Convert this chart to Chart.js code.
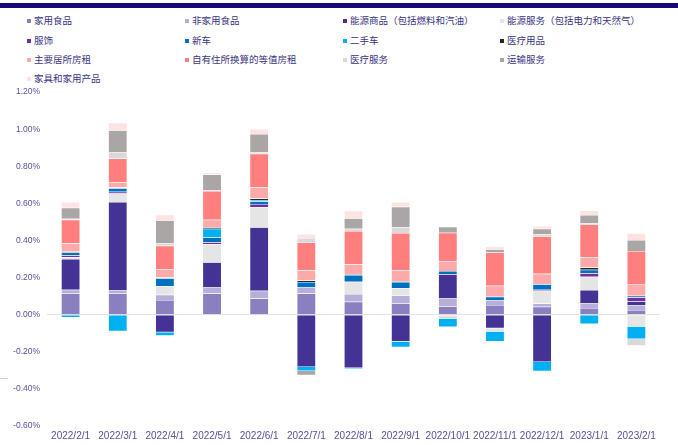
<!DOCTYPE html>
<html>
<head>
<meta charset="utf-8">
<script src="https://cdn.jsdelivr.net/npm/chart.js@4.4.1/dist/chart.umd.min.js"></script>
<style>
    body { margin: 0; background: #fff; }
    #wrap { position: relative; width: 678px; height: 445px; overflow: hidden; }
    #band { position: absolute; left: 0; top: 3px; width: 678px; height: 5px; background: #16087a; }
    #legend { position: absolute; left: 0; top: 0; width: 678px; height: 90px; }
    .item { position: absolute; height: 14px; line-height: 14px; font-family: "Noto Sans CJK SC", sans-serif; font-size: 9.5px; color: #3a3482; white-space: nowrap; }
    .item i { display: inline-block; width: 4px; height: 4px; margin-right: 3px; vertical-align: 1px; }
    #box { position: absolute; left: 0; top: 80px; width: 678px; height: 365px; }
    #mark { position: absolute; left: 0; top: 378px; width: 8px; height: 1px; background: #d0d0d0; }
</style>
</head>
<body>
<div id="wrap">
    <div id="band"></div>
    <div id="legend"></div>
    <div id="mark"></div>
    <div id="box"><canvas id="cpiChart"></canvas></div>
</div>
<script>
// ================= DATA =================
let months = ["2022/2/1", "2022/3/1", "2022/4/1", "2022/5/1", "2022/6/1", "2022/7/1", "2022/8/1",
    "2022/9/1", "2022/10/1", "2022/11/1", "2022/12/1", "2023/1/1", "2023/2/1"];

let seriesNames = ["家用食品", "非家用食品", "能源商品（包括燃料和汽油）", "能源服务（包括电力和天然气）",
    "服饰", "新车", "二手车", "医疗用品", "主要居所房租", "自有住所换算的等值房租", "医疗服务", "运输服务", "家具和家用产品"];

let seriesColors = ["#8a7fbf", "#b7afd9", "#443395", "#e5e5e5", "#7030a0", "#0070c0", "#00b0f0",
    "#262626", "#ffaaaa", "#ff7f7f", "#d9d9d9", "#aaa6a6", "#ffe3e3"];

// contribution, %
let foodHome     = [0.116, 0.116, 0.079, 0.114, 0.088, 0.114, 0.070, 0.062, 0.045, 0.052, 0.043, 0.036, 0.025];
let foodAway     = [0.018, 0.014, 0.029, 0.032, 0.041, 0.032, 0.041, 0.043, 0.043, 0.025, 0.018, 0.027, 0.027];
let energyGoods  = [0.166, 0.477, -0.095, 0.137, 0.343, -0.282, -0.287, -0.145, 0.130, -0.073, -0.255, 0.070, 0.020];
let energyServ   = [0.010, 0.046, 0.045, 0.098, 0.107, 0, 0.066, 0.037, -0.015, -0.018, 0.068, 0.071, -0.063];
let apparel      = [0.010, 0.010, 0, 0.010, 0.018, 0, 0, 0, -0.005, 0, 0.005, 0.020, 0.021];
let newCars      = [0.015, 0.018, 0.043, 0.027, 0.014, 0.030, 0.037, 0.034, 0.018, 0.020, 0.030, 0.018, 0.009];
let usedCars     = [-0.015, -0.089, -0.018, 0.046, 0.008, -0.021, -0.005, -0.030, -0.046, -0.054, -0.050, -0.050, -0.068];
let medGoods     = [0.005, 0.005, 0.004, 0.007, 0.007, 0.009, 0.004, 0.003, 0, 0, 0, 0.012, 0];
let rent         = [0.045, 0.027, 0.045, 0.041, 0.061, 0.054, 0.054, 0.059, 0.054, 0.059, 0.057, 0.054, 0.063];
let oer          = [0.127, 0.129, 0.127, 0.155, 0.180, 0.152, 0.179, 0.202, 0.152, 0.179, 0.202, 0.179, 0.179];
let medServ      = [0.005, 0.032, 0.012, 0.005, 0.007, 0.023, 0.012, 0.030, 0, 0, 0.012, 0.004, -0.036];
let transServ    = [0.059, 0.120, 0.125, 0.084, 0.100, -0.023, 0.057, 0.112, 0.032, 0.018, 0.029, 0.046, 0.059];
let furnishings  = [0.032, 0.041, 0.030, 0.010, 0.027, 0.021, 0.041, 0.025, 0, 0.014, 0.014, 0.025, 0.036];

let seriesValues = [foodHome, foodAway, energyGoods, energyServ, apparel, newCars, usedCars,
    medGoods, rent, oer, medServ, transServ, furnishings];

// y axis ticks, %
let yMin = -0.6;
let yMax = 1.2;
let yStep = 0.2;

// ================= LEGEND =================
let legend = document.getElementById("legend");
let colX = [27, 185, 343, 500];
let rowY = [13, 32.5, 51.5, 70.5];

seriesNames.forEach(function (name, i) {
    let div = document.createElement("div");
    div.className = "item";
    div.style.left = colX[i % 4] + "px";
    div.style.top = rowY[Math.floor(i / 4)] + "px";
    div.innerHTML = '<i style="background:' + seriesColors[i] + '"></i>' + name;
    legend.appendChild(div);
});

// ================= CHART =================
let datasets = seriesNames.map(function (name, i) {
    return {
        label: name,
        data: seriesValues[i],
        backgroundColor: seriesColors[i],
        borderColor: "rgba(255,255,255,0.6)",
        borderWidth: 0.5,
        barPercentage: 0.4,
        categoryPercentage: 1.0
    };
});

let sansFont = "'Liberation Sans Narrow', 'Liberation Sans', sans-serif";

new Chart(document.getElementById("cpiChart"), {
    type: "bar",
    data: { labels: months, datasets: datasets },
    options: {
        responsive: true,
        maintainAspectRatio: false,
        animation: false,
        layout: { padding: { top: 8, right: 18, bottom: 3, left: 0 } },
        plugins: {
            legend: { display: false },
            tooltip: { enabled: false }
        },
        scales: {
            x: {
                stacked: true,
                afterFit: function (axis) { axis.height = 16; },
                grid: { display: false, drawTicks: false },
                border: { display: false },
                ticks: { color: "#5a4f9e", font: { family: sansFont, size: 10 }, padding: 4, maxRotation: 0, autoSkip: false }
            },
            y: {
                stacked: true,
                min: yMin,
                max: yMax,
                afterFit: function (axis) { axis.width = 47; },
                ticks: {
                    stepSize: yStep,
                    color: "#5a4f9e",
                    font: { family: sansFont, size: 8.5 },
                    padding: 7,
                    callback: function (v) { return v.toFixed(2) + "%"; }
                },
                grid: {
                    drawTicks: false,
                    color: function (ctx) {
                        return ctx.tick && Math.abs(ctx.tick.value) < 1e-9 ? "#e3e3e3" : "rgba(0,0,0,0)";
                    }
                },
                border: { display: false }
            }
        }
    }
});
</script>
</body>
</html>
